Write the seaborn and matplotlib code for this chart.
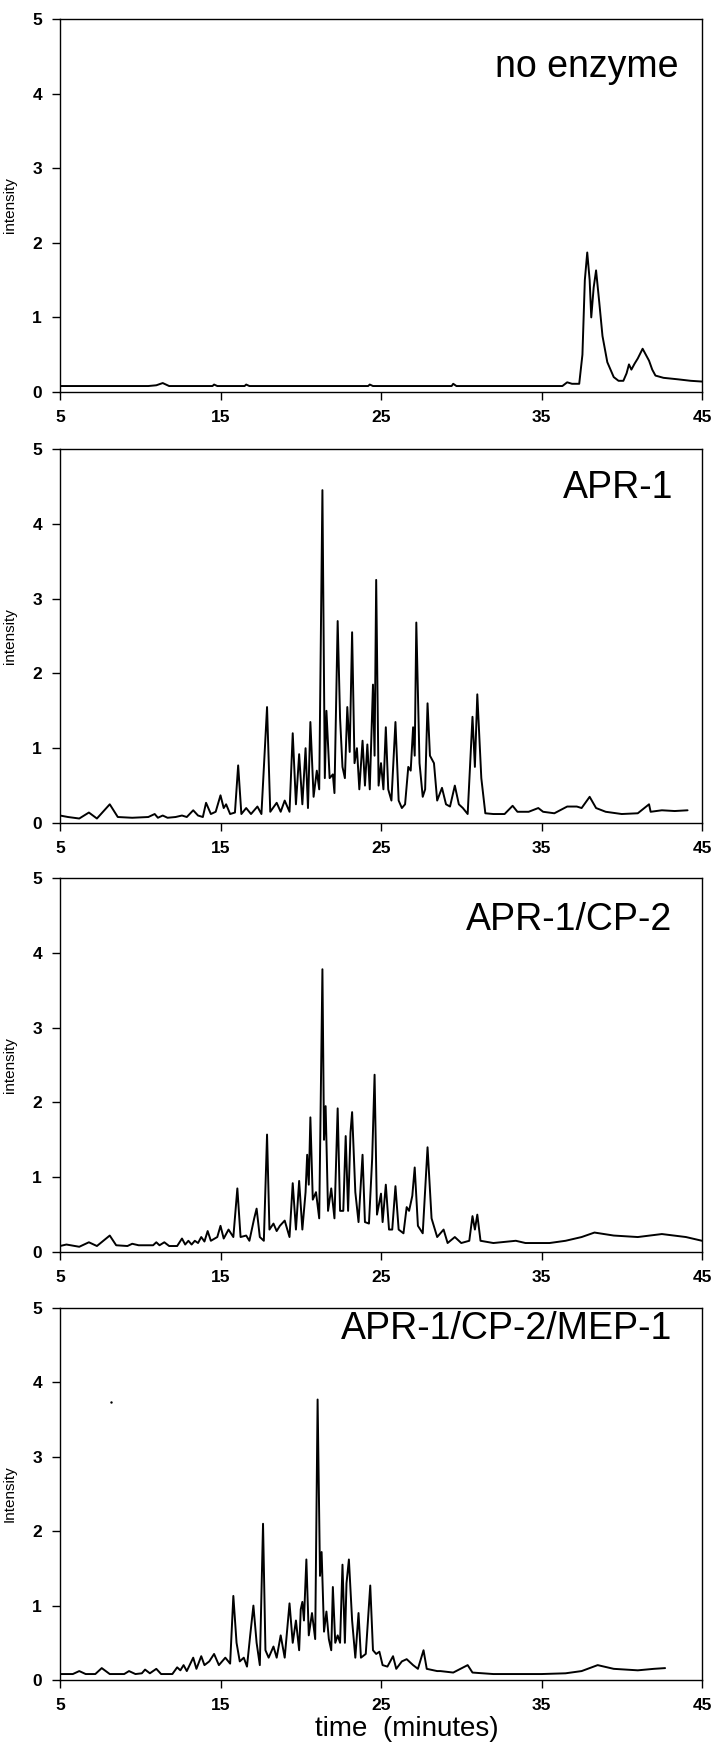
import pandas as pd
import seaborn as sns
import matplotlib.pyplot as plt

# chromatogram traces: (time in minutes, intensity)
no_enzyme = [(5.0, 0.08), (8.0, 0.08), (10.5, 0.08), (11.0, 0.09), (11.4, 0.12), (11.8, 0.08),
             (14.5, 0.08), (14.6, 0.1), (14.8, 0.08), (16.5, 0.08), (16.6, 0.1), (16.8, 0.08),
             (24.2, 0.08), (24.3, 0.1), (24.5, 0.08), (29.4, 0.08), (29.5, 0.11), (29.7, 0.08),
             (36.3, 0.08), (36.6, 0.13), (36.9, 0.11), (37.35, 0.11), (37.55, 0.5), (37.7, 1.5),
             (37.85, 1.87), (38.0, 1.5), (38.1, 1.0), (38.25, 1.4), (38.4, 1.63), (38.6, 1.2),
             (38.8, 0.75), (39.1, 0.4), (39.3, 0.3), (39.5, 0.2), (39.8, 0.15), (40.1, 0.15),
             (40.3, 0.25), (40.45, 0.37), (40.6, 0.3), (40.8, 0.38), (41.0, 0.45), (41.3, 0.58),
             (41.5, 0.5), (41.7, 0.42), (41.9, 0.3), (42.1, 0.22), (42.6, 0.19), (43.5, 0.17),
             (44.3, 0.15), (45.0, 0.14)]

apr1 = [(5.0, 0.1), (5.5, 0.08), (6.2, 0.06), (6.8, 0.14), (7.3, 0.06), (8.1, 0.25), (8.6, 0.08),
        (9.5, 0.07), (10.5, 0.08), (10.9, 0.12), (11.1, 0.07), (11.4, 0.1), (11.7, 0.07),
        (12.2, 0.08), (12.6, 0.1), (12.9, 0.08), (13.3, 0.17), (13.6, 0.1), (13.9, 0.08),
        (14.1, 0.27), (14.4, 0.12), (14.7, 0.15), (15.0, 0.37), (15.2, 0.2), (15.35, 0.25),
        (15.6, 0.12), (15.9, 0.14), (16.1, 0.77), (16.3, 0.12), (16.6, 0.2), (16.9, 0.12),
        (17.3, 0.22), (17.55, 0.12), (17.9, 1.55), (18.1, 0.15), (18.5, 0.27), (18.75, 0.15),
        (19.0, 0.3), (19.3, 0.15), (19.5, 1.2), (19.7, 0.25), (19.9, 0.92), (20.1, 0.25),
        (20.3, 1.0), (20.45, 0.2), (20.6, 1.35), (20.8, 0.35), (21.0, 0.7), (21.15, 0.45),
        (21.35, 4.45), (21.5, 0.6), (21.6, 1.5), (21.8, 0.6), (22.0, 0.65), (22.1, 0.4),
        (22.3, 2.7), (22.45, 1.4), (22.6, 0.75), (22.75, 0.6), (22.9, 1.55), (23.05, 0.95),
        (23.2, 2.55), (23.35, 0.8), (23.5, 1.0), (23.65, 0.45), (23.85, 1.1), (24.0, 0.5),
        (24.15, 1.05), (24.3, 0.45), (24.5, 1.85), (24.6, 0.9), (24.7, 3.25), (24.85, 0.5),
        (25.0, 0.8), (25.15, 0.45), (25.3, 1.28), (25.45, 0.45), (25.65, 0.3), (25.9, 1.35),
        (26.1, 0.3), (26.3, 0.2), (26.5, 0.25), (26.7, 0.75), (26.85, 0.7), (27.0, 1.28),
        (27.1, 0.9), (27.2, 2.68), (27.4, 0.8), (27.6, 0.35), (27.75, 0.45), (27.9, 1.6),
        (28.05, 0.9), (28.3, 0.8), (28.5, 0.3), (28.8, 0.47), (29.05, 0.25), (29.3, 0.22),
        (29.6, 0.5), (29.85, 0.25), (30.1, 0.2), (30.4, 0.12), (30.7, 1.42), (30.85, 0.75),
        (31.0, 1.72), (31.25, 0.6), (31.5, 0.13), (32.0, 0.12), (32.7, 0.12), (33.2, 0.23),
        (33.5, 0.15), (34.2, 0.15), (34.8, 0.2), (35.1, 0.15), (35.8, 0.13), (36.6, 0.22),
        (37.2, 0.22), (37.5, 0.2), (38.0, 0.35), (38.4, 0.2), (39.0, 0.15), (40.0, 0.12),
        (41.0, 0.13), (41.7, 0.25), (41.8, 0.15), (42.5, 0.17), (43.3, 0.16), (44.1, 0.17)]

apr1_cp2 = [(5.0, 0.08), (5.4, 0.1), (6.2, 0.07), (6.8, 0.13), (7.3, 0.08), (8.1, 0.22), (8.5, 0.09),
            (9.2, 0.08), (9.5, 0.11), (9.9, 0.09), (10.8, 0.09), (11.0, 0.13), (11.2, 0.09),
            (11.5, 0.13), (11.8, 0.08), (12.3, 0.08), (12.6, 0.18), (12.8, 0.1), (13.0, 0.15),
            (13.2, 0.1), (13.4, 0.15), (13.6, 0.12), (13.8, 0.2), (14.0, 0.14), (14.2, 0.28),
            (14.4, 0.15), (14.8, 0.2), (15.0, 0.35), (15.2, 0.18), (15.5, 0.3), (15.8, 0.2),
            (16.05, 0.85), (16.25, 0.2), (16.6, 0.22), (16.8, 0.15), (17.1, 0.45), (17.25, 0.58),
            (17.45, 0.2), (17.7, 0.15), (17.9, 1.57), (18.05, 0.3), (18.3, 0.38), (18.5, 0.28),
            (18.7, 0.35), (19.0, 0.42), (19.3, 0.2), (19.5, 0.92), (19.7, 0.3), (19.9, 0.95),
            (20.1, 0.3), (20.3, 0.8), (20.4, 1.3), (20.5, 0.9), (20.6, 1.8), (20.75, 0.7),
            (20.95, 0.8), (21.15, 0.45), (21.35, 3.78), (21.45, 1.5), (21.55, 1.95), (21.7, 0.55),
            (21.9, 0.85), (22.1, 0.45), (22.3, 1.92), (22.45, 0.55), (22.65, 0.55), (22.8, 1.55),
            (22.95, 0.55), (23.1, 1.6), (23.2, 1.87), (23.4, 0.8), (23.6, 0.4), (23.85, 1.3),
            (24.0, 0.4), (24.25, 0.38), (24.45, 1.25), (24.6, 2.37), (24.75, 0.5), (25.0, 0.78),
            (25.1, 0.4), (25.3, 0.9), (25.5, 0.3), (25.7, 0.3), (25.9, 0.88), (26.1, 0.3),
            (26.4, 0.25), (26.6, 0.6), (26.75, 0.55), (26.95, 0.75), (27.1, 1.13), (27.3, 0.35),
            (27.6, 0.25), (27.9, 1.4), (28.15, 0.45), (28.5, 0.2), (28.9, 0.3), (29.15, 0.12),
            (29.6, 0.2), (30.0, 0.12), (30.5, 0.15), (30.7, 0.48), (30.85, 0.3), (31.0, 0.5),
            (31.2, 0.15), (32.0, 0.12), (33.4, 0.15), (34.0, 0.12), (35.5, 0.12), (36.5, 0.15),
            (37.5, 0.2), (38.3, 0.26), (39.5, 0.22), (41.0, 0.2), (42.5, 0.24), (44.0, 0.2),
            (45.0, 0.15)]

apr1_cp2_mep1 = [(5.0, 0.08), (5.8, 0.08), (6.2, 0.12), (6.6, 0.08), (7.2, 0.08), (7.6, 0.16),
                 (8.1, 0.08), (9.0, 0.08), (9.3, 0.12), (9.7, 0.08), (10.1, 0.09), (10.3, 0.14),
                 (10.6, 0.09), (11.0, 0.15), (11.3, 0.08), (12.0, 0.08), (12.3, 0.17), (12.5, 0.13),
                 (12.7, 0.2), (12.9, 0.12), (13.3, 0.3), (13.5, 0.15), (13.8, 0.32), (14.0, 0.2),
                 (14.3, 0.25), (14.6, 0.35), (14.9, 0.2), (15.3, 0.3), (15.6, 0.22), (15.8, 1.13),
                 (16.0, 0.5), (16.2, 0.25), (16.45, 0.3), (16.65, 0.18), (16.85, 0.6), (17.05, 1.0),
                 (17.25, 0.5), (17.45, 0.2), (17.65, 2.1), (17.8, 0.4), (18.0, 0.3), (18.3, 0.45),
                 (18.5, 0.3), (18.75, 0.6), (19.0, 0.3), (19.3, 1.03), (19.5, 0.5), (19.7, 0.8),
                 (19.9, 0.4), (20.0, 0.95), (20.1, 1.05), (20.2, 0.8), (20.35, 1.62), (20.5, 0.6),
                 (20.7, 0.9), (20.9, 0.55), (21.05, 3.77), (21.2, 1.4), (21.3, 1.72), (21.45, 0.65),
                 (21.6, 0.92), (21.75, 0.55), (21.9, 0.4), (22.0, 1.25), (22.15, 0.5), (22.3, 0.6),
                 (22.45, 0.5), (22.6, 1.55), (22.75, 0.5), (22.85, 1.3), (23.0, 1.62), (23.2, 0.8),
                 (23.4, 0.3), (23.6, 0.9), (23.75, 0.3), (24.05, 0.35), (24.33, 1.27), (24.5, 0.4),
                 (24.7, 0.35), (24.9, 0.38), (25.1, 0.2), (25.4, 0.18), (25.75, 0.32), (25.95, 0.15),
                 (26.3, 0.25), (26.6, 0.28), (27.0, 0.2), (27.3, 0.15), (27.65, 0.4), (27.85, 0.15),
                 (28.5, 0.12), (28.7, 0.12), (29.5, 0.1), (30.4, 0.2), (30.7, 0.1), (32.0, 0.08),
                 (35.0, 0.08), (36.5, 0.09), (37.5, 0.12), (38.5, 0.2), (39.5, 0.15), (41.0, 0.13),
                 (42.0, 0.15), (42.7, 0.16)]

# stray dot in the last panel
speck = [(8.2, 3.73)]

labels = ['no enzyme', 'APR-1', 'APR-1/CP-2', 'APR-1/CP-2/MEP-1']
ylabels = ['intensity', 'intensity', 'intensity', 'Intensity']
x_ticks = [5, 15, 25, 35, 45]
y_ticks = [0, 1, 2, 3, 4, 5]

sns.set_style('ticks')
plt.rcParams['font.family'] = ['Liberation Sans', 'DejaVu Sans']
plt.rcParams['text.color'] = 'black'
plt.rcParams['axes.labelcolor'] = 'black'
plt.rcParams['xtick.color'] = 'black'
plt.rcParams['ytick.color'] = 'black'
tick_font = ['Liberation Sans Narrow', 'Liberation Sans', 'DejaVu Sans']

fig = plt.figure(figsize=(7.13, 17.43), dpi=100)

# axes boxes measured in pixels: (top, bottom)
boxes = [(19, 392), (449, 823), (878, 1252), (1308, 1680)]
label_x = [0.963, 0.955, 0.953, 0.953]
label_y = [0.871, 0.895, 0.887, 0.944]

for i, data in enumerate([no_enzyme, apr1, apr1_cp2, apr1_cp2_mep1]):
    top, bot = boxes[i]
    ax = fig.add_axes([60 / 713, 1 - bot / 1743, 642 / 713, (bot - top) / 1743])
    df = pd.DataFrame(data, columns=['time', 'intensity'])
    sns.lineplot(data=df, x='time', y='intensity', ax=ax, color='black', lw=1.4,
                 sort=False, estimator=None)
    ax.set_xlim(5, 45)
    ax.set_ylim(0, 5)
    ax.set_xticks(x_ticks)
    ax.set_yticks(y_ticks)
    ax.set_xticklabels([str(t) for t in x_ticks])
    ax.set_yticklabels([str(t) for t in y_ticks])
    for lbl in ax.get_xticklabels() + ax.get_yticklabels():
        lbl.set_family(tick_font)
        lbl.set_fontweight('bold')
        lbl.set_fontsize(12.5)
        lbl.set_color('black')
    ax.tick_params(direction='out', length=6, width=1, color='black', pad=7)
    for sp in ax.spines.values():
        sp.set_linewidth(1.0)
        sp.set_color('black')
    ax.set_ylabel(ylabels[i], fontsize=11, color='black')
    ax.yaxis.set_label_coords(-0.067, 0.5)
    ax.text(label_x[i], label_y[i], labels[i], transform=ax.transAxes, ha='right', va='center',
            fontsize=27, color='black')
    if i == 3:
        sp = pd.DataFrame(speck, columns=['time', 'intensity'])
        sns.scatterplot(data=sp, x='time', y='intensity', ax=ax, color='black', s=3, linewidth=0)
        ax.set_xlabel('time  (minutes)', fontsize=20, color='black')
        ax.xaxis.set_label_coords(0.54, -0.097)
    else:
        ax.set_xlabel('')

fig.savefig('out.png', dpi=100)
